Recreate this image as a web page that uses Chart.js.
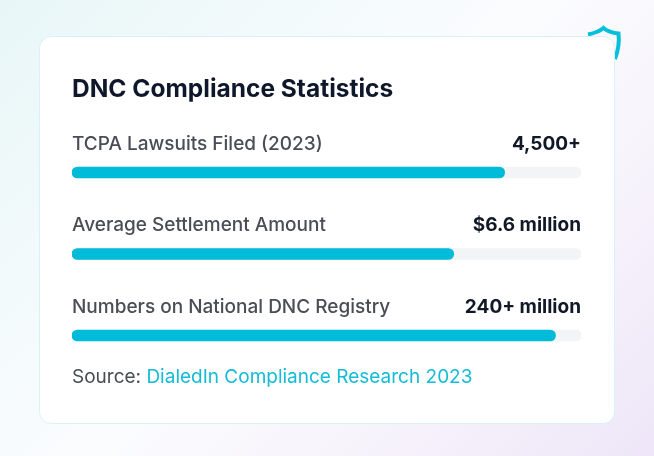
<!DOCTYPE html>
<html>
<head>
<meta charset="utf-8">
<script src="https://cdn.jsdelivr.net/npm/chart.js@4"></script>
<style>
html,body{margin:0;padding:0;width:654px;height:456px;overflow:hidden}
body{position:relative;background:linear-gradient(135deg,#e8f6f7 0%,#f2fafb 25%,#fbfcfe 50%,#f6f2fb 75%,#eee6f8 100%)}
#shield{position:absolute;left:0;top:0}
#card{position:absolute;left:39px;top:36px;width:574px;height:386px;background:#fff;border:1px solid #d9f2f7;border-radius:12px}
#wrap{position:absolute;left:0;top:0;width:654px;height:456px}
</style>
</head>
<body>
<svg id="shield" width="654" height="456"><path d="M588 34.5 C595 33 600 31 603.5 28 C607 31 613 33 618.5 33.5 C619.5 42 618 51 615 59" fill="none" stroke="#06bfd8" stroke-width="4"/></svg>
<div id="card"></div>
<div id="wrap"><canvas id="c" width="654" height="456"></canvas></div>
<script>
const chartTitle = "DNC Compliance Statistics";
const categories = ["TCPA Lawsuits Filed (2023)", "Average Settlement Amount", "Numbers on National DNC Registry"];
const valueLabels = ["4,500+", "$6.6 million", "240+ million"];
const fillValues = [85, 75, 95];
const trackValues = [100, 100, 100];
const sourcePrefix = "Source: ";
const sourceName = "DialedIn Compliance Research 2023";
const FONT = "Inter, 'Noto Sans', sans-serif";

const textPlugin = {
  id: "rowText",
  afterDatasetsDraw(chart) {
    const { ctx, scales } = chart;
    const left = scales.x.getPixelForValue(0);
    const right = scales.x.getPixelForValue(100);
    ctx.save();
    ctx.textBaseline = "middle";
    categories.forEach((cat, i) => {
      const y = scales.y.getPixelForValue(i) - 28.5;
      ctx.textAlign = "left";
      ctx.fillStyle = "#4a4d55";
      ctx.font = "500 19px " + FONT;
      ctx.fillText(cat, left, y);
      ctx.textAlign = "right";
      ctx.fillStyle = "#111827";
      ctx.font = "700 19px " + FONT;
      ctx.fillText(valueLabels[i], right, y);
    });
    const sy = scales.y.getPixelForValue(2) + 42;
    ctx.textAlign = "left";
    ctx.font = "400 19px " + FONT;
    ctx.fillStyle = "#4a4d55";
    ctx.fillText(sourcePrefix, left, sy);
    const w = ctx.measureText(sourcePrefix).width;
    ctx.fillStyle = "#14bcd6";
    ctx.fillText(sourceName, left + w, sy);
    ctx.restore();
  }
};

new Chart(document.getElementById("c"), {
  type: "bar",
  data: {
    labels: categories,
    datasets: [
      { data: fillValues, backgroundColor: "#00bcd9", grouped: false, barThickness: 11, borderRadius: 6, borderSkipped: false },
      { data: trackValues, backgroundColor: "#f3f4f6", grouped: false, barThickness: 11, borderRadius: 6, borderSkipped: false }
    ]
  },
  options: {
    indexAxis: "y",
    responsive: false,
    animation: false,
    layout: { padding: { left: 72, right: 73, top: 75, bottom: 79.75 } },
    scales: {
      x: { display: false, min: 0, max: 100 },
      y: { display: false }
    },
    plugins: {
      legend: { display: false },
      tooltip: { enabled: false },
      title: {
        display: true, text: chartTitle, align: "start", color: "#0f172a",
        font: { family: FONT, size: 24.5, weight: "700", lineHeight: 1.2 },
        padding: { top: 0, bottom: 27.35 }
      }
    }
  },
  plugins: [textPlugin]
});
</script>
</body>
</html>
